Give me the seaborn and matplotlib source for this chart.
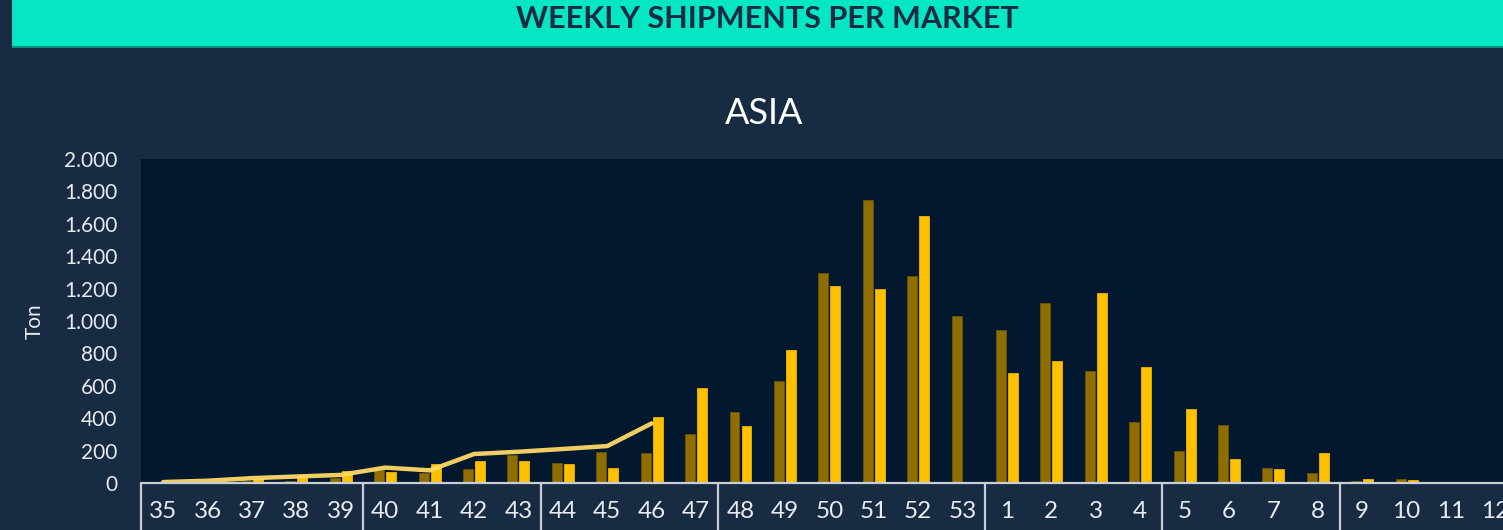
import pandas as pd
import matplotlib.pyplot as plt
import seaborn as sns
from matplotlib.patches import Rectangle
from matplotlib.ticker import FuncFormatter
import matplotlib.transforms as mtransforms

# ==============================
# Dados (leitura do gráfico)
# ==============================
weeks = [35, 36, 37, 38, 39, 40, 41, 42, 43, 44, 45, 46, 47, 48, 49, 50, 51, 52, 53,
         1, 2, 3, 4, 5, 6, 7, 8, 9, 10, 11, 12]
prev_season = [0, 0, 12, 15, 30, 82, 62, 84, 171, 121, 189, 183, 304, 436, 632, 1298,
               1747, 1278, 1029, 944, 1109, 693, 374, 200, 358, 93, 64, 12, 25, 8, 0]
curr_season = [0, 0, 22, 50, 76, 68, 118, 138, 138, 117, 92, 409, 588, 354, 821, 1218,
               1195, 1648, 0, 681, 755, 1175, 714, 455, 150, 86, 183, 27, 20, 0, 0]
trend = [6, 14, 30, 40, 50, 95, 78, 179, 193, 210, 228, 368]  # semanas 35-46
month_weeks = [5, 4, 4, 6, 4, 4, 4]  # semanas por mês (separadores do eixo)

week_labels = [str(w) for w in weeks]
df = pd.DataFrame({
    "week": week_labels * 2,
    "season": ["prev"] * len(weeks) + ["curr"] * len(weeks),
    "ton": prev_season + curr_season,
})

# ==============================
# Estilo
# ==============================
BG = "#172b42"
PLOT_BG = "#02182f"
TEAL = "#05e6c5"
TXT = "#e8eaed"

sns.set_style("dark")
plt.rcParams["font.family"] = ["Lato", "DejaVu Sans"]

fig = plt.figure(figsize=(15.03, 5.30), dpi=100, facecolor=BG)
ax = fig.add_axes([141 / 1503, 47 / 530, 1 - 141 / 1503, 324 / 530])
ax.set_facecolor(PLOT_BG)

sns.barplot(data=df, x="week", y="ton", hue="season", order=week_labels,
            hue_order=["prev", "curr"], palette=["#8f6d00", "#ffc000"],
            saturation=1, width=0.54, gap=0.17, legend=False, ax=ax,
            errorbar=None, edgecolor="#6e5400", linewidth=0.6)
for p in ax.patches[len(weeks):]:
    p.set_edgecolor("#f0b400")

sns.lineplot(x=list(range(len(trend))), y=trend, color="#ffd966", linewidth=3.2,
             alpha=0.95, ax=ax, zorder=5)

ax.set_xlim(-0.5, 30.17)
ax.set_ylim(0, 2000)
ax.set_yticks(range(0, 2001, 200))
ax.yaxis.set_major_formatter(FuncFormatter(lambda v, _: f"{v:,.0f}".replace(",", ".")))
ax.tick_params(axis="y", length=0, pad=17, labelsize=15, labelcolor=TXT)
ax.tick_params(axis="x", length=0, pad=13, labelsize=17.5, labelcolor=TXT)
ax.set_xlabel("")
ax.set_ylabel("Ton", color=TXT, fontsize=15, labelpad=14)
ax.grid(False)
for s in ax.spines.values():
    s.set_visible(False)
ax.axhline(0, color="#c9ced4", linewidth=1.6, zorder=6, clip_on=False)

# separadores dos meses no eixo x
trans = mtransforms.blended_transform_factory(ax.transData, ax.transAxes)
pos = -0.5
for n in [0] + month_weeks:
    pos += n
    ax.plot([pos, pos], [0, -0.2], transform=trans, color="#c9ced4",
            linewidth=1.6, clip_on=False)

# ==============================
# Títulos
# ==============================
fig.patches.append(Rectangle((12 / 1503, 1 - 47 / 530), 1, 47 / 530,
                             transform=fig.transFigure, facecolor=TEAL,
                             edgecolor="none", zorder=0))
fig.patches.append(Rectangle((12 / 1503, 1 - 48 / 530), 1, 1.5 / 530,
                             transform=fig.transFigure, facecolor="#0b8f80",
                             edgecolor="none", zorder=0))
fig.text(767 / 1503, 1 - 19 / 530, "WEEKLY SHIPMENTS PER MARKET", ha="center",
         va="center", fontsize=22, fontweight="bold", color=BG)
fig.text(764 / 1503, 1 - 113 / 530, "ASIA", ha="center", va="center",
         fontsize=26, fontweight="normal", color="white")

fig.savefig("out.png", dpi=100, facecolor=BG)
